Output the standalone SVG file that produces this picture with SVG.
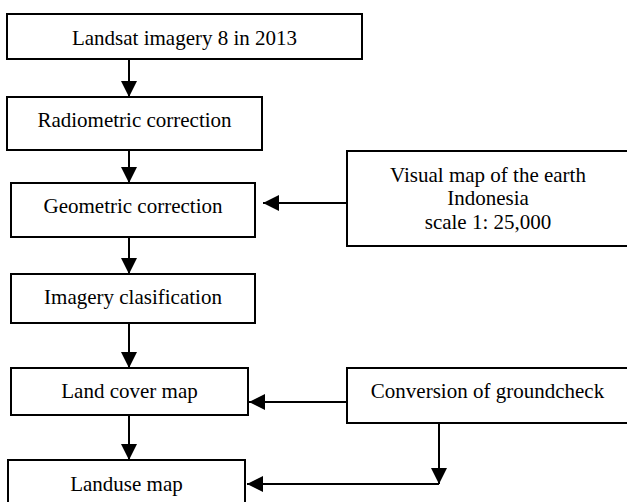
<svg xmlns="http://www.w3.org/2000/svg" width="627" height="502" viewBox="0 0 627 502">
<style>
.box{fill:#fff;stroke:#000;stroke-width:2}
.t{font-family:"Liberation Serif","Times New Roman",serif;font-size:21px;fill:#000;text-anchor:middle}
.c{fill:none;stroke:#000;stroke-width:2}
</style>
<defs>
<marker id="ah" markerWidth="16" markerHeight="16" viewBox="0 0 16 16" refX="16" refY="8" orient="auto" markerUnits="userSpaceOnUse">
<path d="M0,0 L16,8 L0,16 Z" fill="#000"/>
</marker>
</defs>
<rect width="627" height="502" fill="#fff"/>
<g id="connectors">
<line class="c" x1="129" y1="59" x2="129" y2="97" marker-end="url(#ah)"/>
<line class="c" x1="129" y1="146" x2="129" y2="183" marker-end="url(#ah)"/>
<line class="c" x1="129" y1="237" x2="129" y2="274" marker-end="url(#ah)"/>
<line class="c" x1="129" y1="323" x2="129" y2="368" marker-end="url(#ah)"/>
<line class="c" x1="129" y1="415" x2="129" y2="460" marker-end="url(#ah)"/>
<line class="c" x1="347" y1="203" x2="263" y2="203" marker-end="url(#ah)"/>
<line class="c" x1="347" y1="402" x2="249" y2="402" marker-end="url(#ah)"/>
<line class="c" x1="439" y1="423" x2="439" y2="484" marker-end="url(#ah)"/>
<line class="c" x1="439" y1="484" x2="247" y2="484" marker-end="url(#ah)"/>
</g>
<g id="n1"><rect class="box" x="7" y="14" width="355" height="45"/><text class="t" x="184.5" y="45">Landsat imagery 8 in 2013</text></g>
<g id="n2"><rect class="box" x="7" y="97" width="255" height="53"/><text class="t" x="134.5" y="127">Radiometric correction</text></g>
<g id="n3"><rect class="box" x="11" y="183" width="244" height="54"/><text class="t" x="133" y="213">Geometric correction</text></g>
<g id="n4"><rect class="box" x="11" y="274" width="244" height="49"/><text class="t" x="133" y="304">Imagery clasification</text></g>
<g id="n5"><rect class="box" x="11" y="368" width="237" height="47"/><text class="t" x="129.5" y="398">Land cover map</text></g>
<g id="n6"><rect class="box" x="8" y="460" width="237" height="50"/><text class="t" x="126.5" y="491">Landuse map</text></g>
<g id="n7"><rect class="box" x="347" y="151" width="290" height="95"/><text class="t" x="488" y="182">Visual map of the earth</text><text class="t" x="488" y="205">Indonesia</text><text class="t" x="488" y="229">scale 1: 25,000</text></g>
<g id="n8"><rect class="box" x="347" y="368" width="290" height="55"/><text class="t" x="487.5" y="398">Conversion of groundcheck</text></g>
</svg>
